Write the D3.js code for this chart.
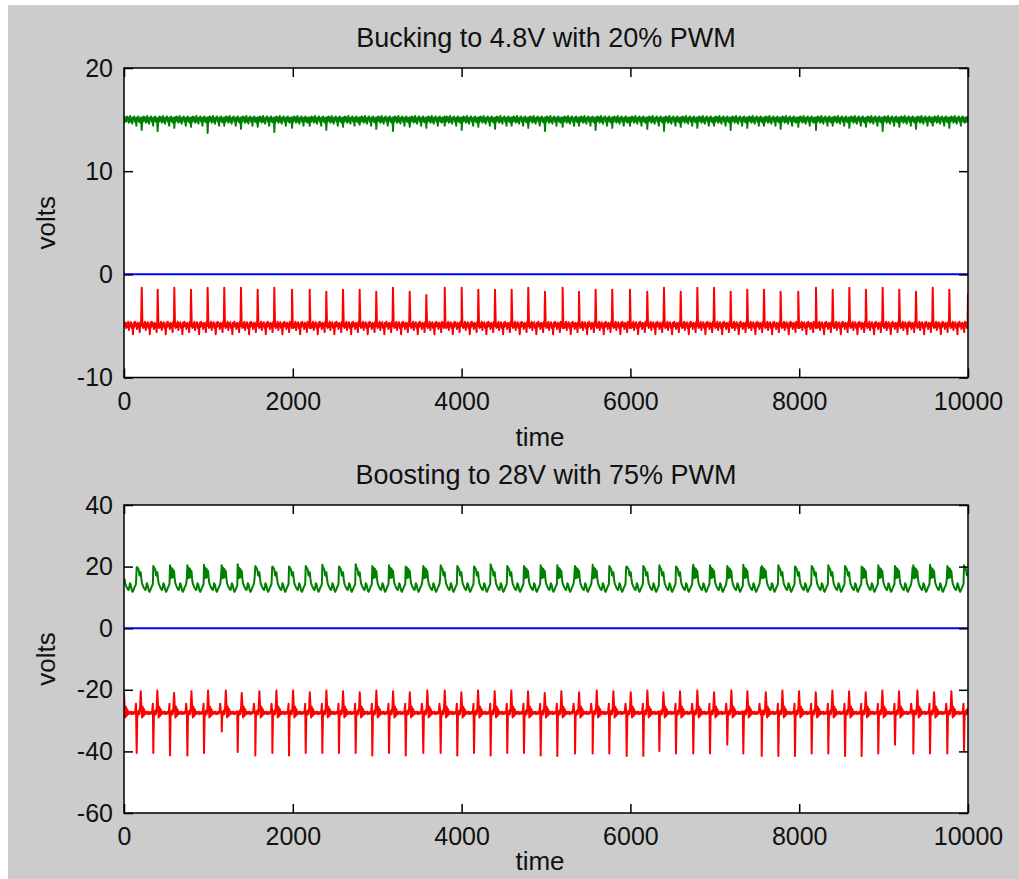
<!DOCTYPE html>
<html>
<head>
<meta charset="utf-8">
<script src="https://cdnjs.cloudflare.com/ajax/libs/d3/7.8.5/d3.min.js"></script>
<style>
  html, body { margin: 0; padding: 0; background: #fff; }
  svg { display: block; }
</style>
</head>
<body>
<div id="viz"></div>
<script>
var TIME_TICKS = [0, 2000, 4000, 6000, 8000, 10000];
var BUCK_TICKS = [-10, 0, 10, 20];
var BOOST_TICKS = [-60, -40, -20, 0, 20, 40];
var ZERO_LINE = [[0, 0], [10000, 0]];

// bucking: one switching edge roughly every 198 samples
var buckEdges = [
  210, 399, 596, 794, 991, 1188, 1386, 1584, 1781, 1991,
  2200, 2397, 2595, 2792, 2989, 3187, 3385, 3582, 3800, 4001,
  4198, 4396, 4593, 4790, 4988, 5197, 5391, 5588, 5785, 5995,
  6200, 6398, 6596, 6793, 6991, 7188, 7385, 7583, 7780, 7989,
  8199, 8397, 8594, 8791, 8989, 9186, 9384, 9582, 9779];
var buckRedPeak = [
  -1.3, -1.5, -1.3, -1.5, -1.3, -1.3, -1.3, -1.5, -1.3, -1.5,
  -1.5, -1.7, -1.5, -1.5, -1.7, -1.3, -1.7, -2.0, -1.3, -1.3,
  -1.5, -1.5, -1.5, -1.3, -1.7, -1.3, -1.7, -1.5, -1.5, -1.5,
  -1.7, -1.3, -1.7, -1.3, -1.3, -1.7, -1.5, -1.5, -1.7, -1.7,
  -1.3, -1.5, -1.3, -1.5, -1.3, -1.5, -1.7, -1.3, -1.5];
var buckRedLevel = -4.9;
// slot 0 is the edge sample itself
var buckRedNoise = [0, 0.2, -0.3, 0.1, -0.2, 0.3, -0.5, 0.1, -0.1, 0.25, -0.3, 0.0, -0.9,
  0.2, -0.2, 0.3, -0.1, 0.1, -0.4, 0.2, -0.2, 0.1, -0.7, 0.3, -0.1];
var buckRedEnd = -1.8;
var buckGreenDip = [
  14.0, 13.9, 14.2, 14.3, 13.7, 14.4, 14.1, 14.3, 13.8, 14.2,
  14.4, 14.0, 14.3, 14.5, 14.1, 13.9, 14.3, 14.2, 14.4, 14.0,
  14.3, 14.1, 14.4, 14.2, 13.9, 14.3, 14.4, 14.0, 14.2, 14.4,
  14.1, 13.9, 14.3, 14.2, 14.4, 14.0, 14.2, 14.4, 14.1, 14.3,
  14.0, 14.4, 14.2, 14.3, 13.9, 14.3, 14.1, 14.4, 14.2];
var buckGreenLevel = 15.0;
var buckGreenNoise = [0, 0.2, -0.2, 0.3, -0.1, 0.2, -0.3, 0.1, 0.35, -0.2, 0.1, -0.4,
  0.2, 0.0, 0.3, -0.2, 0.1, -0.6, 0.2, -0.1, 0.3, -0.2, 0.1, -0.3, 0.2];

// boosting
var boostEdges = [
  150, 347, 545, 751, 948, 1158, 1347, 1556, 1758, 1955,
  2153, 2350, 2547, 2745, 2942, 3140, 3338, 3546, 3752, 3949,
  4147, 4344, 4541, 4739, 4937, 5134, 5344, 5553, 5750, 5956,
  6153, 6343, 6540, 6745, 6943, 7148, 7338, 7556, 7753, 7950,
  8148, 8345, 8543, 8740, 8937, 9135, 9352, 9550, 9755, 9953];
var boostRedLow = [
  -40.5, -40.5, -41.3, -41.3, -40.5, -33.5, -40.2, -41.3, -40.5, -41.3,
  -40.5, -40.5, -40.5, -40.5, -41.3, -40.5, -41.3, -40.5, -40.5, -41.3,
  -40.5, -41.3, -40.5, -40.5, -41.3, -41.5, -40.7, -40.7, -40.7, -41.5,
  -41.5, -39.9, -40.7, -40.7, -40.7, -37.8, -40.7, -41.5, -41.5, -41.5,
  -40.7, -40.7, -41.5, -41.5, -40.7, -37.8, -40.7, -40.7, -40.7, -39.6];
var boostRedHigh = [
  -20.5, -20.2, -21.0, -20.5, -20.2, -20.2, -21.0, -20.5, -20.2, -20.2,
  -20.8, -20.2, -20.5, -20.8, -20.2, -20.5, -20.8, -20.2, -20.2, -20.8,
  -20.2, -20.5, -20.2, -20.5, -21.0, -20.5, -20.8, -20.2, -20.5, -20.8,
  -20.2, -20.8, -20.5, -20.2, -20.8, -20.2, -20.5, -20.8, -20.2, -20.5,
  -20.8, -20.2, -20.5, -20.8, -20.2, -20.5, -20.2, -20.8, -20.5, -21.0];
var boostRedLevel = -27.5;
// slot 0 = low spike, slot 6 = high spike
var boostRedNoise = [0, 0.3, -0.6, 0.8, -0.4, 1.5, 0, 2.5, -1.5, 2.0, -1.0, 1.2, -0.5,
  0.4, -0.3, 0.3, -0.2, 0.4, -0.4, 0.2, -0.3, 0.3, -0.2, 0.5, 3.0];
var boostRedStart = -21;
var boostGreenPeak = [
  19.8, 20.2, 20.4, 20.4, 20.6, 20.4, 20.8, 20.2, 20.0, 20.0,
  20.2, 20.6, 20.0, 20.8, 20.2, 20.4, 20.0, 20.2, 20.4, 20.2,
  20.0, 20.8, 20.2, 20.2, 20.4, 20.4, 20.2, 20.6, 20.2, 20.0,
  20.2, 20.4, 20.0, 20.6, 20.4, 20.2, 20.6, 20.2, 20.4, 20.0,
  20.2, 20.4, 20.2, 20.0, 20.4, 20.2, 20.4, 20.6, 20.2, 20.4];
// 1 where the top of the pulse rings (drawn as a solid block)
var boostGreenFilled = [
  0, 0, 1, 1, 1, 1, 1, 0, 0, 0,
  0, 0, 0, 0, 1, 1, 1, 1, 0, 0,
  0, 0, 0, 1, 1, 1, 1, 1, 0, 0,
  0, 0, 0, 1, 1, 1, 1, 1, 0, 0,
  0, 0, 0, 1, 1, 1, 1, 1, 1, 0];
var boostGreenShape = [0, 19.8, 19.4, 19.0, 17.2, 17.0, 18.2, 16.0, 14.5, 14.0, 13.4, 13.0,
  12.6, 12.4, 13.2, 14.6, 14.2, 13.2, 12.2, 11.8, 12.2, 12.8, 13.4, 13.8, 14.4];
var boostGreenShapeFilled = [0, 16.2, 19.6, 16.4, 19.2, 16.6, 18.6, 16.0, 14.5, 14.0, 13.4, 13.0,
  12.6, 12.4, 13.2, 14.6, 14.2, 13.2, 12.2, 11.8, 12.2, 12.8, 13.4, 13.8, 14.4];

var W = 1019, H = 879;
var STEP = 8, T_MAX = 10000;

// pick a between-edge sample, wrapping over everything but slot 0
function cyc(arr, i) {
  var n = arr.length - 1;
  var m = ((i - 1) % n + n) % n;
  return arr[1 + m];
}

// walk the edges, asking valueAt(k, i) for the i-th sample after edge k
function sampled(edges, valueAt) {
  var pts = [];
  for (var j = Math.floor(edges[0] / STEP); j >= 1; j--)
    pts.push([edges[0] - j * STEP, valueAt(-1, -j)]);
  edges.forEach(function (t0, k) {
    var t1 = k + 1 < edges.length ? edges[k + 1] : T_MAX + 1;
    for (var i = 0; t0 + i * STEP < t1 && t0 + i * STEP <= T_MAX; i++)
      pts.push([t0 + i * STEP, valueAt(k, i)]);
  });
  return pts;
}

var buckRed = sampled(buckEdges, function (k, i) {
  if (i === 0) return buckRedPeak[k];
  return buckRedLevel + cyc(buckRedNoise, i < 0 ? i + buckRedNoise.length : i);
});
buckRed.push([T_MAX, buckRedEnd]);

var buckGreen = sampled(buckEdges, function (k, i) {
  if (i === 0) return buckGreenDip[k];
  return buckGreenLevel + cyc(buckGreenNoise, i < 0 ? i + buckGreenNoise.length : i);
});

var boostRed = sampled(boostEdges, function (k, i) {
  if (i === 0) return boostRedLow[k];
  if (i === 6) return boostRedHigh[k];
  return boostRedLevel + cyc(boostRedNoise, i < 0 ? i + boostRedNoise.length : i);
});
boostRed.unshift([0, boostRedStart]);

var boostGreen = sampled(boostEdges, function (k, i) {
  if (i === 0) return boostGreenPeak[k];
  if (i < 0) return cyc(boostGreenShape, i + boostGreenShape.length);
  return cyc(boostGreenFilled[k] ? boostGreenShapeFilled : boostGreenShape, i);
});

var FONT = "'Liberation Sans', Arial, Helvetica, sans-serif";

var svg = d3.select("#viz").append("svg")
    .attr("width", W)
    .attr("height", H);

svg.append("rect")
    .attr("x", 8).attr("y", 5)
    .attr("width", W - 8).attr("height", H - 5)
    .attr("fill", "#cccccc");

var x = d3.scaleLinear().domain([0, T_MAX]).range([124, 968]);

function panel(id, top, bottom, yDomain, yTicks, title, timeY, traces) {
  var y = d3.scaleLinear().domain(yDomain).range([bottom, top]);
  var g = svg.append("g");

  g.append("rect")
      .attr("x", x(0)).attr("y", top)
      .attr("width", x(T_MAX) - x(0)).attr("height", bottom - top)
      .attr("fill", "#fff");

  g.append("clipPath").attr("id", id)
    .append("rect")
      .attr("x", x(0)).attr("y", top)
      .attr("width", x(T_MAX) - x(0)).attr("height", bottom - top);

  var line = d3.line().x(d => x(d[0])).y(d => y(d[1]));
  var plot = g.append("g").attr("clip-path", "url(#" + id + ")");
  traces.forEach(function (tr) {
    plot.append("path")
        .attr("d", line(tr.data))
        .attr("fill", "none")
        .attr("stroke", tr.color)
        .attr("stroke-width", 2)
        .attr("stroke-linejoin", "round");
  });

  var fmt = d => String(d);
  var axes = [
    [d3.axisBottom(x).tickValues(TIME_TICKS).tickFormat(fmt).tickPadding(14.5), "translate(0," + bottom + ")"],
    [d3.axisTop(x).tickValues(TIME_TICKS).tickFormat(""), "translate(0," + top + ")"],
    [d3.axisLeft(y).tickValues(yTicks).tickFormat(fmt).tickPadding(11), "translate(" + x(0) + ",0)"],
    [d3.axisRight(y).tickValues(yTicks).tickFormat(""), "translate(" + x(T_MAX) + ",0)"]
  ];
  axes.forEach(function (a) {
    var ax = g.append("g")
        .attr("transform", a[1])
        .call(a[0].tickSizeInner(-9).tickSizeOuter(0));
    ax.select(".domain").remove();
    ax.selectAll(".tick line").attr("stroke", "#000").attr("stroke-width", 1.5);
    ax.selectAll(".tick text")
        .attr("font-family", FONT)
        .attr("font-size", 25)
        .attr("fill", "#111");
  });

  g.append("rect")
      .attr("x", x(0)).attr("y", top)
      .attr("width", x(T_MAX) - x(0)).attr("height", bottom - top)
      .attr("fill", "none")
      .attr("stroke", "#000")
      .attr("stroke-width", 1.5);

  g.append("text")
      .attr("x", (x(0) + x(T_MAX)) / 2).attr("y", top - 21)
      .attr("text-anchor", "middle")
      .attr("font-family", FONT).attr("font-size", 27).attr("fill", "#111")
      .text(title);

  g.append("text")
      .attr("x", 540).attr("y", timeY)
      .attr("text-anchor", "middle")
      .attr("font-family", FONT).attr("font-size", 26).attr("fill", "#111")
      .text("time");

  g.append("text")
      .attr("transform", "translate(55," + (top + bottom) / 2 + ") rotate(-90)")
      .attr("text-anchor", "middle")
      .attr("font-family", FONT).attr("font-size", 26).attr("fill", "#111")
      .text("volts");
}

panel("clip-buck", 68, 377.5, [-10, 20], BUCK_TICKS, "Bucking to 4.8V with 20% PWM", 446, [
  { data: ZERO_LINE, color: "#0000ff" },
  { data: buckGreen, color: "#008000" },
  { data: buckRed, color: "#ff0000" }
]);

panel("clip-boost", 505, 813, [-60, 40], BOOST_TICKS, "Boosting to 28V with 75% PWM", 870, [
  { data: ZERO_LINE, color: "#0000ff" },
  { data: boostGreen, color: "#008000" },
  { data: boostRed, color: "#ff0000" }
]);
</script>
</body>
</html>
